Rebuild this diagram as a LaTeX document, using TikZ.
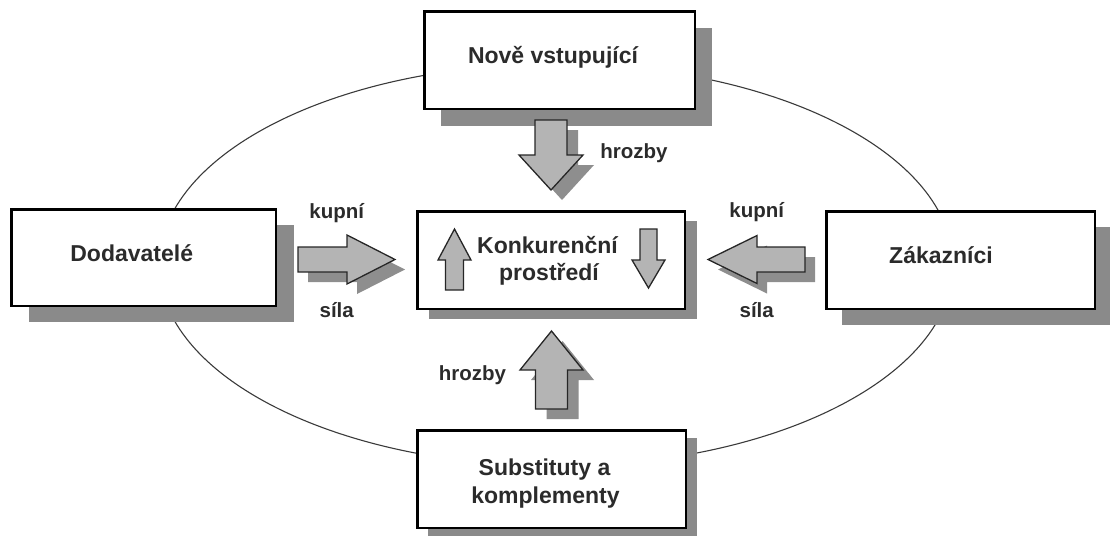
\documentclass[tikz,border=0pt]{standalone}
\usepackage{fontspec}
\setmainfont{Liberation Sans}
\usetikzlibrary{calc,shadows}

\definecolor{boxshadow}{HTML}{8A8A8A}
\definecolor{arrowfill}{HTML}{B4B4B4}
\definecolor{arrowshadow}{HTML}{8E8E8E}
\definecolor{ink}{HTML}{2B2B2B}
\definecolor{ringline}{HTML}{3A3A3A}

% block arrow: #1 style, #2 tail point, #3 tip point,
% #4 half shaft width, #5 half head width, #6 head length
\newcommand\blockarrow[6]{%
  \coordinate (hb) at ($(#3)!#6!(#2)$);
  \path[#1] ($(#2)!#4!90:(#3)$) -- ($(hb)!#4!90:(#3)$) -- ($(hb)!#5!90:(#3)$)
    -- (#3) -- ($(hb)!#5!-90:(#3)$) -- ($(hb)!#4!-90:(#3)$)
    -- ($(#2)!#4!-90:(#3)$) -- cycle;}

\tikzset{
  box/.style={draw=black, line width=2.5pt, fill=white, inner sep=0pt},
  shadowed/.style 2 args={general shadow={shadow xshift=#1, shadow yshift=#2, fill=boxshadow}},
  boxtext/.style={anchor=base, inner sep=0pt, text=ink, font=\fontsize{23}{28}\selectfont\bfseries},
  lbltext/.style={anchor=base, inner sep=0pt, text=ink, font=\fontsize{20.5}{24}\selectfont\bfseries},
  arrowbody/.style={draw=black!85, line width=1.3pt, fill=arrowfill, line join=miter},
  arrowshade/.style={fill=arrowshadow},
  ring/.style={draw=ringline, line width=1.1pt}
}

\begin{document}
\begin{tikzpicture}[x=1pt, y=-1pt]
\useasboundingbox (0,0) rectangle (1110,536);

% the surrounding ellipse
\draw[ring] (556,265) ellipse [x radius=397, y radius=201];

% the five boxes
\node[box, shadowed={17pt}{-17pt}, minimum width=270.5pt, minimum height=97.5pt] (nove) at (559.5,60) {};
\node[box, shadowed={18pt}{-16pt}, minimum width=264.5pt, minimum height=96.5pt] (dod) at (143.5,257.5) {};
\node[box, shadowed={12pt}{-10pt}, minimum width=267.5pt, minimum height=97.5pt] (konk) at (551,260) {};
\node[box, shadowed={16pt}{-16pt}, minimum width=268.5pt, minimum height=97.5pt] (zak) at (960.5,260) {};
\node[box, shadowed={11pt}{-8pt}, minimum width=268.5pt, minimum height=97.5pt] (sub) at (551.5,479) {};

% box texts
\node[boxtext] (t-nove) at (553,63) {Nově vstupující};
\node[boxtext] (t-dod) at (131.7,261) {Dodavatelé};
\node[boxtext] (t-zak) at (941,263) {Zákazníci};
\node[boxtext] (t-konk1) at (547.5,253) {Konkurenční};
\node[boxtext] (t-konk2) at (549,280) {prostředí};
\node[boxtext] (t-sub1) at (544.5,475) {Substituty a};
\node[boxtext] (t-sub2) at (545.5,503) {komplementy};

% arrow end points
\coordinate (a1t) at (551,120);   \coordinate (a1h) at (551,190);
\coordinate (a2t) at (298,259.5); \coordinate (a2h) at (395,259.5);
\coordinate (a3t) at (805,259.5); \coordinate (a3h) at (708,259.5);
\coordinate (a4t) at (551.5,409); \coordinate (a4h) at (551.5,331);
\coordinate (a5t) at (454.5,290); \coordinate (a5h) at (454.5,229);
\coordinate (a6t) at (648.5,229); \coordinate (a6h) at (648.5,288);

% arrow shadows
\begin{scope}[transform canvas={shift={(11pt,-10pt)}}]
  \blockarrow{arrowshade}{a1t}{a1h}{16pt}{32pt}{35pt}
\end{scope}
\begin{scope}[transform canvas={shift={(10pt,-10pt)}}]
  \blockarrow{arrowshade}{a2t}{a2h}{12.5pt}{24.5pt}{48pt}
  \blockarrow{arrowshade}{a3t}{a3h}{12.5pt}{24pt}{49pt}
\end{scope}
\begin{scope}[transform canvas={shift={(11pt,-10pt)}}]
  \blockarrow{arrowshade}{a4t}{a4h}{16pt}{31.5pt}{39pt}
\end{scope}

% arrows
\blockarrow{arrowbody}{a1t}{a1h}{16pt}{32pt}{35pt}
\blockarrow{arrowbody}{a2t}{a2h}{12.5pt}{24.5pt}{48pt}
\blockarrow{arrowbody}{a3t}{a3h}{12.5pt}{24pt}{49pt}
\blockarrow{arrowbody}{a4t}{a4h}{16pt}{31.5pt}{39pt}
\blockarrow{arrowbody}{a5t}{a5h}{9pt}{16.5pt}{31pt}
\blockarrow{arrowbody}{a6t}{a6h}{8.5pt}{16.5pt}{28pt}

% arrow labels
\node[lbltext] (l-hroz1) at (634,158) {hrozby};
\node[lbltext] (l-hroz2) at (472.5,380) {hrozby};
\node[lbltext] (l-kup1) at (336.7,218) {kupní};
\node[lbltext] (l-sil1) at (336.7,317) {síla};
\node[lbltext] (l-kup2) at (756.7,217) {kupní};
\node[lbltext] (l-sil2) at (756.7,317) {síla};
\end{tikzpicture}
\end{document}
